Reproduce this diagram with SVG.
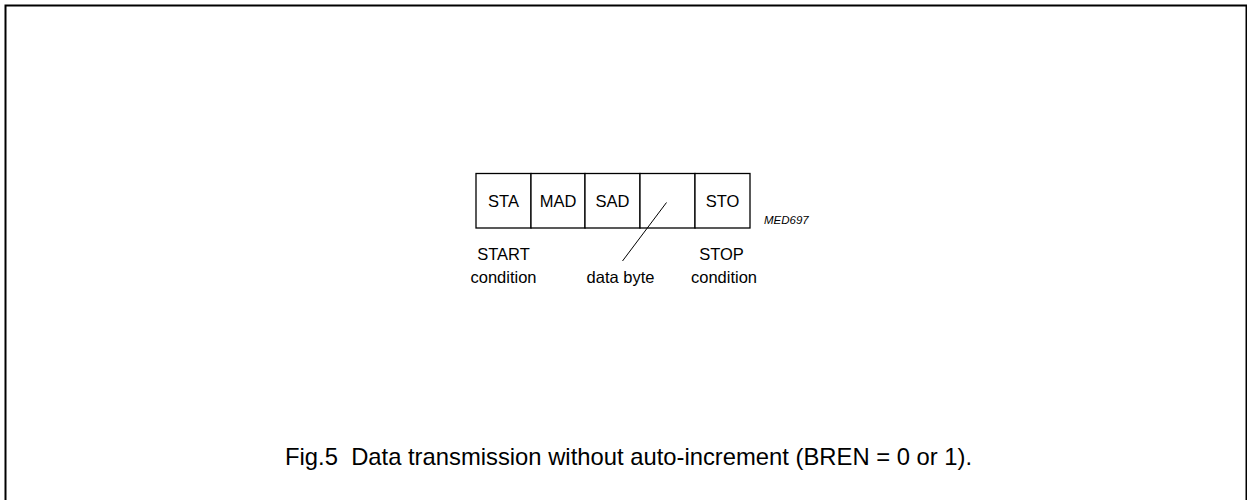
<svg xmlns="http://www.w3.org/2000/svg" width="1247" height="500" viewBox="0 0 1247 500">
<style>
.t{font-family:"Liberation Sans",Arial,sans-serif;font-size:16.5px;fill:#000;text-anchor:middle}
.cap{font-family:"Liberation Sans",Arial,sans-serif;font-size:23.8px;fill:#000;white-space:pre}
.c{fill:#fff;stroke:#000;stroke-width:1.3}
.m{font-family:"Liberation Sans",Arial,sans-serif;font-size:11.5px;font-style:italic;fill:#000}
</style>
<rect x="0" y="0" width="1247" height="500" fill="#fff"/>
<rect x="5.5" y="5.5" width="1241" height="520" fill="none" stroke="#000" stroke-width="2"/>
<g id="sta"><rect class="c" x="476" y="173.5" width="55" height="54.5"/><text class="t" x="503.5" y="207">STA</text></g>
<g id="mad"><rect class="c" x="531" y="173.5" width="54" height="54.5"/><text class="t" x="558" y="207">MAD</text></g>
<g id="sad"><rect class="c" x="585" y="173.5" width="55" height="54.5"/><text class="t" x="612.5" y="207">SAD</text></g>
<g id="data"><rect class="c" x="640" y="173.5" width="55" height="54.5"/></g>
<g id="sto"><rect class="c" x="695" y="173.5" width="55" height="54.5"/><text class="t" x="722.5" y="207">STO</text></g>
<g id="connectors"><line x1="666.5" y1="202.5" x2="622.5" y2="261" stroke="#000" stroke-width="1"/></g>
<text class="m" x="764" y="224">MED697</text>
<text class="t" x="503.5" y="260">START</text>
<text class="t" x="503.5" y="283">condition</text>
<text class="t" x="620.5" y="283">data byte</text>
<text class="t" x="721.5" y="260">STOP</text>
<text class="t" x="724" y="283">condition</text>
<text class="cap" x="285" y="465" xml:space="preserve">Fig.5  Data transmission without auto-increment (BREN = 0 or 1).</text>
</svg>
